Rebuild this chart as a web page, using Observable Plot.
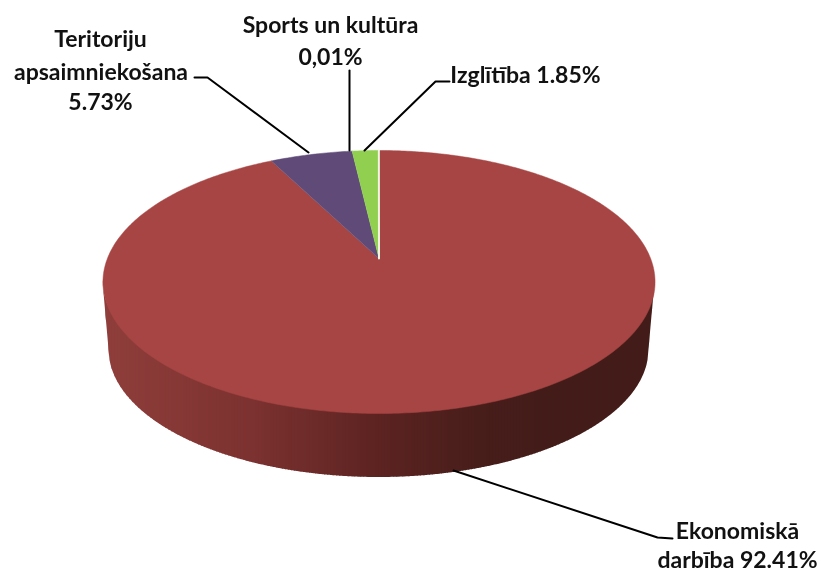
<!DOCTYPE html>
<html><head><meta charset="utf-8">
<script src="https://cdn.jsdelivr.net/npm/d3@7"></script>
<script src="https://cdn.jsdelivr.net/npm/@observablehq/plot@0.6"></script>
<style>html,body{margin:0;padding:0;background:#fff}svg{filter:blur(0.45px)}</style>
</head><body><div id="chart"></div>
<script>
// Data, clockwise from 12 o'clock
const categories = ["Ekonomiskā darbība","Teritoriju apsaimniekošana","Izglītība","Sports un kultūra"];
const shares = [92.41,5.73,1.85,0.01];
const colors = ["#a64543","#5f4a78","#90cf50","#f0f6e2"];
const outlines = [0.5,0.5,0.5,2];
const labelLines = [
  {t:"Teritoriju",x:100,y:39},{t:"apsaimniekošana",x:100.5,y:72},{t:"5.73%",x:100,y:102},
  {t:"Sports un kultūra",x:330,y:25},{t:"0,01%",x:330,y:57},
  {t:"Izglītība 1.85%",x:525,y:75},
  {t:"Ekonomiskā",x:737,y:531},{t:"darbība 92.41%",x:737,y:560}
];
const leaders = [
  [[194,77],[207,77],[308,152]],
  [[349,70],[349,150]],
  [[449,81],[435,81],[364,150]],
  [[453,470],[657,537],[672,538]]
];
const wallStops = [[103,"#8f3e3b"],[250,"#7c3230"],[380,"#5c2321"],[470,"#491e1b"],[540,"#431c19"],[655,"#431c19"]];

// Perspective disc projection
const W=822,H=573,cx=378.5,apexY=258,a=271.6,b=127.3,t=0.1787;
const proj=(th)=>{const u=Math.sin(th),v=Math.cos(th),k=1+t*v;return [cx+a*u/k,apexY-b*v/k];};
const arcs=d3.pie().sort(null).value(d=>d)(shares);
const slices=arcs.flatMap((s,i)=>{
  const n=Math.max(2,Math.ceil((s.endAngle-s.startAngle)*80));
  const pts=[{i,p:[cx,apexY]}];
  for(let j=0;j<=n;j++)pts.push({i,p:proj(s.startAngle+(s.endAngle-s.startAngle)*j/n)});
  return pts;
});
// wall: lower edge of top ellipse to lower edge of bottom ellipse, in thin vertical strips
const rxTop=276,ryTop=131.5,cyTop=281.5,rxBot=270,ryBot=128,cyBot=349;
const edge=(x,c,rx,ry)=>c+ry*Math.sqrt(Math.max(0,1-((x-cx)/rx)**2));
const lowY=x=>{
  const d=Math.abs(x-cx);
  return d<=rxBot?edge(x,cyBot,rxBot,ryBot):cyBot-(d-rxBot)/(rxTop-rxBot)*(cyBot-cyTop);
};
const wallColor=d3.scaleLinear().domain(wallStops.map(d=>d[0])).range(wallStops.map(d=>d[1]));
const strips=[];
for(let x=cx-rxTop;x<cx+rxTop;x+=3){
  const xs=[x,x+1,x+2,x+3,x+3.6].map(X=>Math.min(X,cx+rxTop));
  for(const X of xs) strips.push({s:x,x:X,y1:edge(X,cyTop,rxTop,ryTop)-2,y2:lowY(X),c:wallColor(x+1.5)});
}
const plot=Plot.plot({
  width:W,height:H,margin:0,
  x:{domain:[0,W],range:[0,W],axis:null},
  y:{domain:[0,H],range:[0,H],axis:null},
  marks:[
    Plot.areaY(strips,{x:"x",y1:"y1",y2:"y2",z:"s",fill:"c",curve:"linear"}),
    Plot.line(slices,{x:d=>d.p[0],y:d=>d.p[1],z:"i",fill:d=>colors[d.i],stroke:d=>colors[d.i],strokeWidth:d=>outlines[d.i],curve:"linear"}),
    Plot.line(leaders.flatMap((l,i)=>l.map(p=>({i,p}))),{x:d=>d.p[0],y:d=>d.p[1],z:"i",stroke:"#000",strokeWidth:2}),
    Plot.text(labelLines,{x:"x",y:"y",text:"t",fontFamily:"Lato",fontWeight:700,fontSize:23,fill:"#111"})
  ]
});
document.getElementById("chart").appendChild(plot);
</script></body></html>
